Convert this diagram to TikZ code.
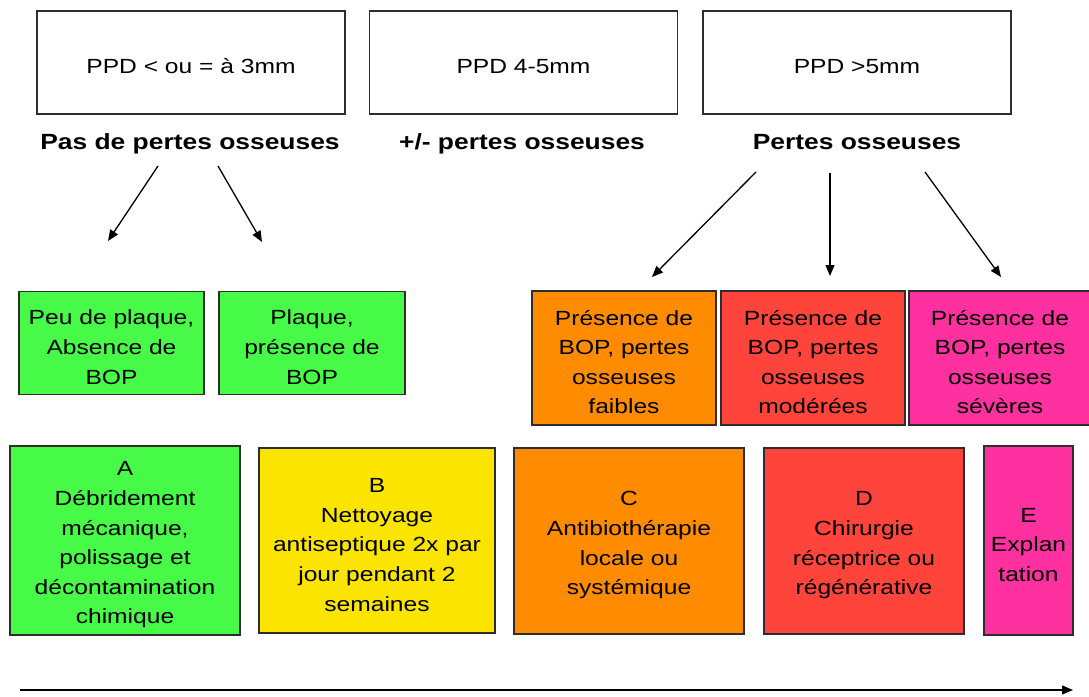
\documentclass[tikz,border=0pt]{standalone}
\usepackage{fontspec}
\setmainfont[FakeStretch=1.2]{Liberation Sans}
\usetikzlibrary{arrows.meta}

\definecolor{boxline}{RGB}{45,45,45}
\definecolor{plaqgreen}{RGB}{72,250,72}
\definecolor{trtyellow}{RGB}{250,228,0}
\definecolor{lossorange}{RGB}{255,140,0}
\definecolor{lossred}{RGB}{255,68,60}
\definecolor{losspink}{RGB}{255,48,160}

\newcommand{\topgap}{\rule{0pt}{23pt}}

\begin{document}
\begin{tikzpicture}[x=1pt, y=-1pt,
		box/.style={draw=boxline, line width=1.3pt, inner sep=0pt, align=center,
			font=\fontsize{20.5}{29.6}\selectfont},
		head/.style={anchor=base, font=\fontsize{22}{26}\selectfont\bfseries},
		arr/.style={line width=1.3pt, -{Triangle[length=11pt, width=9pt]}}]
			\useasboundingbox (0, 0) rectangle (1089, 696);

			% PPD
			\node[box, minimum width=308, minimum height=103] (ppdlow) at (191, 62.5) {\topgap PPD < ou = à 3mm};
			\node[box, minimum width=308, minimum height=103] (ppdmid) at (523.5, 62.5) {\topgap PPD 4-5mm};
			\node[box, minimum width=308, minimum height=103] (ppdhigh) at (857, 62.5) {\topgap PPD >5mm};

			\node[head] (lossno) at (190, 149) {Pas de pertes osseuses};
			\node[head] (losspm) at (522, 149) {+/- pertes osseuses};
			\node[head] (lossyes) at (857, 149) {Pertes osseuses};

			% plaque / BOP
			\node[box, fill=plaqgreen, minimum width=185, minimum height=103] (plaqlow) at (111.5, 343) {\topgap Peu de plaque,\\Absence de\\BOP};
			\node[box, fill=plaqgreen, minimum width=186, minimum height=103] (plaqhigh) at (312, 343) {\topgap Plaque,\\présence de\\BOP};
			\node[box, fill=lossorange, minimum width=184, minimum height=134] (bopfaible) at (624, 358) {\topgap Présence de\\BOP, pertes\\osseuses\\faibles};
			\node[box, fill=lossred, minimum width=184, minimum height=134] (bopmod) at (813, 358) {\topgap Présence de\\BOP, pertes\\osseuses\\modérées};
			\node[box, fill=losspink, minimum width=182, minimum height=134] (bopsev) at (1000, 358) {\topgap Présence de\\BOP, pertes\\osseuses\\sévères};

			% traitements
			\node[box, fill=plaqgreen, minimum width=230, minimum height=189] (trtA) at (125, 540.5) {\topgap A\\Débridement\\mécanique,\\polissage et\\décontamination\\chimique};
			\node[box, fill=trtyellow, minimum width=236, minimum height=185] (trtB) at (377, 540.5) {\topgap B\\Nettoyage\\antiseptique 2x par\\jour pendant 2\\semaines};
			\node[box, fill=lossorange, minimum width=230, minimum height=186] (trtC) at (629, 541) {\topgap C\\Antibiothérapie\\locale ou\\systémique};
			\node[box, fill=lossred, minimum width=200, minimum height=186] (trtD) at (864, 541) {\topgap D\\Chirurgie\\réceptrice ou\\régénérative};
			\node[box, fill=losspink, minimum width=89, minimum height=189] (trtE) at (1028.5, 540.5) {\topgap E\\Explan\\tation};

			% fleches
			\coordinate (nostart1) at (158, 166);
			\coordinate (nostart2) at (218, 166);
			\coordinate (noend1) at (108, 241);
			\coordinate (noend2) at (262, 242);
			\draw[arr] (nostart1) -- (noend1);
			\draw[arr] (nostart2) -- (noend2);

			\coordinate (yesstart1) at (756, 172);
			\coordinate (yesstart2) at (830, 173);
			\coordinate (yesstart3) at (925, 172);
			\coordinate (yesend1) at (652, 277);
			\coordinate (yesend2) at (830, 276);
			\coordinate (yesend3) at (1001, 277);
			\draw[arr] (yesstart1) -- (yesend1);
			\draw[arr] (yesstart2) -- (yesend2);
			\draw[arr] (yesstart3) -- (yesend3);

			\coordinate (axisstart) at (20, 690);
			\coordinate (axisend) at (1073, 690);
			\draw[arr] (axisstart) -- (axisend);

		\end{tikzpicture}
\end{document}
